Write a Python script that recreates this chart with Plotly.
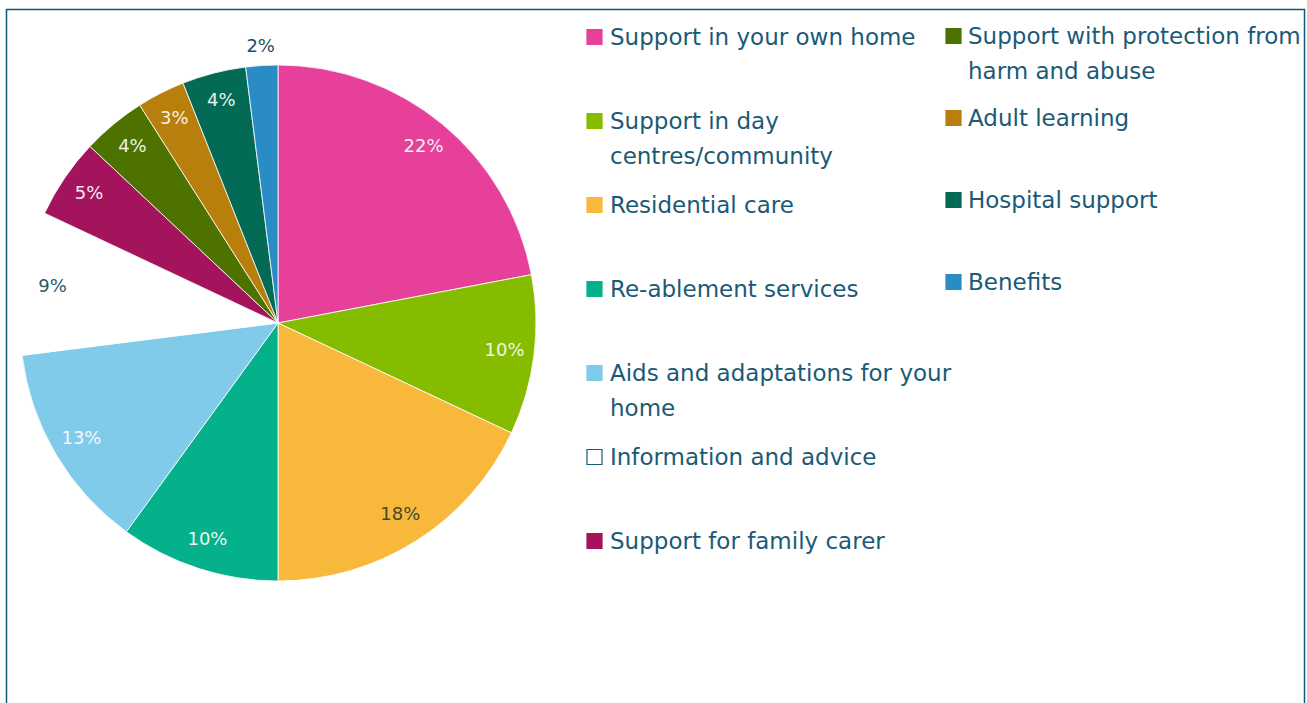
import numpy as np
import plotly.graph_objects as go

# Share of support by type (percent), clockwise from 12 o'clock
categories = [
    "Support in your own home",
    "Support in day centres/community",
    "Residential care",
    "Re-ablement services",
    "Aids and adaptations for your home",
    "Information and advice",
    "Support for family carer",
    "Support with protection from harm and abuse",
    "Adult learning",
    "Hospital support",
    "Benefits",
]
values = [22, 10, 18, 10, 13, 9, 5, 4, 3, 4, 2]

# Legend wording as it is wrapped on screen
legend_lines = [
    ["Support in your own home"],
    ["Support in day", "centres/community"],
    ["Residential care"],
    ["Re-ablement services"],
    ["Aids and adaptations for your", "home"],
    ["Information and advice"],
    ["Support for family carer"],
    ["Support with protection from", "harm and abuse"],
    ["Adult learning"],
    ["Hospital support"],
    ["Benefits"],
]

colors = ["#E6409A", "#86BC00", "#F8B83C", "#04B18A", "#80CBEA", "#FFFFFF",
          "#A3145D", "#4E7200", "#B87F0C", "#036B55", "#2A8CC4"]
label_colors = ["#F4F0F2", "#F2F6E6", "#3F4A2C", "#EAF6F2", "#F2F8FC", "#2A5A6C",
                "#F5EAF0", "#EEF2E6", "#F8F0E4", "#E8F2EF", "#1E4E66"]
label_radius = [0.885] * 10 + [1.07]

W, H = 1307, 703
FONT = "DejaVu Sans"
TEXT_COLOR = "#1A5A77"

vals = np.array(values, dtype=float)
total = vals.sum()
widths = vals / total * 360.0
centers = np.cumsum(widths) - widths / 2

R_MAX = 1.075  # radial range, leaves room for the outside label

fig = go.Figure()
fig.add_trace(go.Barpolar(
    r=[1.0] * len(values),
    theta=centers,
    width=widths,
    marker=dict(color=colors, line=dict(color="#FFFFFF", width=0.8)),
    hoverinfo="skip",
    showlegend=False,
))
fig.add_trace(go.Scatterpolar(
    r=label_radius,
    theta=centers,
    mode="text",
    text=[f"{v}%" for v in values],
    textfont=dict(family=FONT, size=18, color=label_colors),
    textposition="middle center",
    cliponaxis=False,
    hoverinfo="skip",
    showlegend=False,
))

def px(x):
    return x / W

def py(y):
    return 1 - y / H

# Legend: two columns of coloured squares with wrapped labels
shapes = []
annotations = []
col_specs = [
    dict(sq_x=587, txt_x=608, y0=37, step=84, items=range(0, 7)),
    dict(sq_x=946, txt_x=966, y0=36, step=82, items=range(7, 11)),
]
for spec in col_specs:
    for slot, idx in enumerate(spec["items"]):
        yc = spec["y0"] + slot * spec["step"]
        fill = colors[idx]
        shapes.append(dict(
            type="rect", xref="paper", yref="paper",
            x0=px(spec["sq_x"]), x1=px(spec["sq_x"] + 15),
            y0=py(yc + 7.5), y1=py(yc - 7.5),
            fillcolor=fill,
            line=dict(color=TEXT_COLOR if fill == "#FFFFFF" else fill, width=1.2),
        ))
        for k, line in enumerate(legend_lines[idx]):
            annotations.append(dict(
                text=line, xref="paper", yref="paper",
                x=px(spec["txt_x"]), y=py(yc + k * 35),
                xanchor="left", yanchor="middle", showarrow=False,
                font=dict(family=FONT, size=23, color=TEXT_COLOR),
            ))

# Outer frame
shapes.append(dict(
    type="rect", xref="paper", yref="paper",
    x0=px(6.5), x1=px(1304.5), y0=py(720), y1=py(9.5),
    line=dict(color="#0E5878", width=1.5), fillcolor="rgba(0,0,0,0)", layer="below",
))

R = 258 * R_MAX
cx, cy = 278, 323
fig.update_layout(
    width=W, height=H,
    margin=dict(l=0, r=0, t=0, b=0),
    paper_bgcolor="#FFFFFF",
    plot_bgcolor="#FFFFFF",
    polar=dict(
        domain=dict(x=[px(cx - R), px(cx + R)], y=[py(cy + R), py(cy - R)]),
        bgcolor="rgba(0,0,0,0)",
        bargap=0,
        radialaxis=dict(visible=False, range=[0, R_MAX]),
        angularaxis=dict(visible=False, rotation=90, direction="clockwise",
                         thetaunit="degrees"),
    ),
    shapes=shapes,
    annotations=annotations,
    showlegend=False,
)

fig.write_html("out.html")
